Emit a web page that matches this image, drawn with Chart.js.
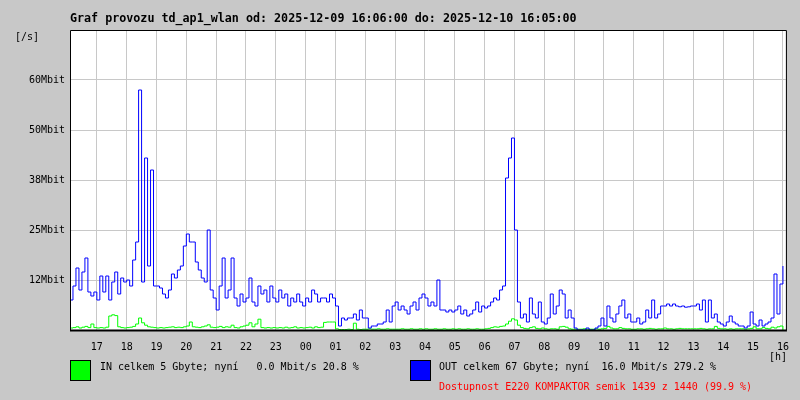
<!DOCTYPE html>
<html><head><meta charset="utf-8">
<script src="https://cdn.jsdelivr.net/npm/chart.js@4/dist/chart.umd.min.js"></script>
<style>html,body{margin:0;padding:0;background:#c8c8c8;}canvas{display:block}</style>
</head><body>
<canvas id="c" width="800" height="400"></canvas>
<script>
// ---- data ----
const titleText = 'Graf provozu td_ap1_wlan od: 2025-12-09 16:06:00 do: 2025-12-10 16:05:00';
const hourLabels = ['17','18','19','20','21','22','23','00','01','02','03','04','05','06','07','08','09','10','11','12','13','14','15','16'];
const firstHourMinute = 54;      // 17:00 is 54 min after 16:06
const sampleStepMinutes = 6;
const yTickLabels = ['', '12Mbit', '25Mbit', '38Mbit', '50Mbit', '60Mbit', ''];
const outMbit = [
  7.5, 11, 15.5, 10, 14.5, 18, 9.5, 8.5, 9.5,
  7.5, 13.5, 9.5, 13.5, 7.5, 12, 14.5, 9, 13, 12,
  12.5, 11, 17.5, 22, 60, 12, 43, 16, 40, 11,
  11, 10.5, 9, 8, 10, 14, 13, 15, 16, 21,
  24, 22, 22, 17, 15, 13, 12, 25, 10, 8,
  5, 11, 18, 8, 10, 18, 8, 6, 9, 7,
  8, 13, 7, 6, 11, 9, 10, 7, 11, 8,
  7, 10, 8, 9, 6, 8, 7, 9, 7, 6,
  8, 7, 10, 9, 7, 8, 8, 7, 9, 8,
  6, 1, 3, 2.5, 3, 3, 4, 2.5, 5, 3,
  3, 0.5, 1, 1, 1.5, 1.5, 2, 5, 2, 6,
  7, 5, 6, 5, 4, 6, 7, 5, 8, 9,
  8, 6, 7, 6, 12.5, 5, 5, 4.5, 5, 4.5,
  5, 6, 4, 5, 3.5, 4, 5, 7, 4.5, 6,
  5.5, 6, 7, 8, 7.5, 10, 11, 38, 43, 48,
  25, 7, 3, 4, 2, 8, 4, 3, 7, 2,
  1.5, 3, 9, 4, 6, 10, 9, 3, 5, 3,
  0.5, 0, 0, 0, 0.5, 0, 0, 0.5, 1, 3,
  1, 6, 3, 2, 4, 6, 7.5, 3, 4, 2,
  2, 3, 1.5, 2, 5, 3, 7.5, 3, 4, 6,
  6, 6.5, 6, 6.5, 6, 5.8, 6, 5.7, 5.8, 6,
  6, 6.5, 5, 7.5, 2, 7.5, 3, 4, 2, 1.5,
  1, 2, 3.5, 2, 1.5, 1, 1, 0.5, 1, 4.5,
  1.5, 1, 2.5, 1, 1.5, 2, 3, 14, 4, 11.5,
  16
];
const inMbit = [
  0.5, 0.6, 0.8, 0.5, 0.7, 0.9, 0.6, 1.5, 0.6,
  0.5, 0.6, 0.5, 0.7, 3.5, 3.8, 3.6, 0.8, 0.6, 0.5,
  0.6, 0.7, 0.9, 1.5, 3, 1.8, 1.2, 0.8, 0.7, 0.6,
  0.5, 0.6, 0.5, 0.6, 0.7, 0.8, 0.6, 0.7, 0.6, 0.8,
  1, 2, 0.8, 0.7, 0.6, 0.8, 1, 1.3, 0.7, 0.6,
  0.7, 0.9, 0.6, 0.8, 0.7, 1.2, 0.6, 0.5, 0.8, 1,
  1.2, 1.8, 0.8, 1.5, 2.7, 0.6, 0.5, 0.6, 0.5, 0.6,
  0.5, 0.6, 0.5, 0.7, 0.5, 0.6, 0.8, 0.5, 0.6, 0.5,
  0.6, 0.7, 0.5, 0.8, 0.6, 0.7, 1.9, 2, 2, 2,
  0.3, 0.1, 0.1, 0.1, 0.2, 0.1, 1.7, 0.2, 0.1, 0.2,
  0.2, 0.3, 0.2, 0.2, 0.3, 0.2, 0.2, 0.3, 0.2, 0.2,
  0.2, 0.2, 0.3, 0.2, 0.2, 0.3, 0.2, 0.2, 0.3, 0.2,
  0.3, 0.2, 0.2, 0.3, 0.2, 0.2, 0.3, 0.2, 0.2, 0.3,
  0.2, 0.3, 0.2, 0.2, 0.3, 0.2, 0.2, 0.3, 0.2, 0.2,
  0.3, 0.4, 0.6, 0.8, 0.7, 0.9, 1, 1.5, 2.2, 2.8,
  2.5, 1.2, 0.6, 0.4, 0.3, 0.6, 0.8, 0.4, 0.3, 0.5,
  0.3, 0.2, 0.3, 0.3, 0.2, 0.8, 0.9, 0.7, 0.3, 0.2,
  0.2, 0.2, 0.2, 0.3, 0.2, 0.2, 0.2, 0.3, 0.2, 0.3,
  0.4, 0.9, 0.5, 0.3, 0.3, 0.6, 0.4, 0.3, 0.3, 0.2,
  0.2, 0.3, 0.3, 0.2, 0.3, 0.4, 0.3, 0.2, 0.3, 0.3,
  0.5, 0.3, 0.3, 0.2, 0.3, 0.4, 0.3, 0.3, 0.3, 0.3,
  0.3, 0.3, 0.4, 0.3, 0.2, 0.3, 0.3, 0.9, 0.4, 0.3,
  0.3, 0.2, 0.3, 0.2, 0.3, 0.3, 0.3, 0.2, 0.3, 0.4,
  0.8, 0.3, 0.3, 0.6, 0.4, 0.3, 0.7, 0.5, 0.8, 1,
  0
];
const legendIn = 'IN celkem 5 Gbyte; nyní   0.0 Mbit/s 20.8 %';
const legendOut = 'OUT celkem 67 Gbyte; nyní  16.0 Mbit/s 279.2 %';
const legendAvail = 'Dostupnost E220 KOMPAKTOR semik 1439 z 1440 (99.9 %)';

// ---- chart ----
const BG = '#c8c8c8', GRID = '#c8c8c8';
const MONO = '"DejaVu Sans Mono", "Liberation Mono", monospace';
const hourTickMinutes = hourLabels.map((_, k) => firstHourMinute + 60 * k);
const toPoints = arr => arr.map((v, i) => ({ x: i * sampleStepMinutes, y: v }));

const decor = {
  id: 'decor',
  beforeDraw(chart) {
    const { ctx, chartArea: a } = chart;
    ctx.save();
    ctx.fillStyle = BG;
    ctx.fillRect(0, 0, chart.width, chart.height);
    ctx.fillStyle = '#ffffff';
    ctx.fillRect(a.left, a.top, a.right - a.left, a.bottom - a.top);
    ctx.restore();
  },
  afterDraw(chart) {
    const { ctx, chartArea: a } = chart;
    ctx.save();
    ctx.strokeStyle = '#000';
    ctx.lineWidth = 1;
    ctx.beginPath();
    ctx.moveTo(a.left + 0.5, a.bottom);
    ctx.lineTo(a.left + 0.5, a.top + 0.5);
    ctx.lineTo(a.right + 0.5, a.top + 0.5);
    ctx.lineTo(a.right + 0.5, a.bottom);
    ctx.stroke();
    ctx.lineWidth = 2;
    ctx.beginPath();
    ctx.moveTo(a.left, a.bottom + 0.5);
    ctx.lineTo(a.right + 1, a.bottom + 0.5);
    ctx.stroke();
    // title
    ctx.fillStyle = '#000';
    ctx.textBaseline = 'middle';
    ctx.textAlign = 'left';
    ctx.font = 'bold 11.7px ' + MONO;
    ctx.fillText(titleText, 70, 19);
    ctx.font = '10px ' + MONO;
    ctx.fillText('[/s]', 15, 37);
    ctx.textAlign = 'center';
    ctx.fillText('[h]', 778, 357);
    ctx.textAlign = 'left';
    // legend boxes
    ctx.lineWidth = 1;
    ctx.fillStyle = '#00ff00';
    ctx.fillRect(70, 360, 21, 21);
    ctx.strokeRect(70.5, 360.5, 20, 20);
    ctx.fillStyle = '#0000ff';
    ctx.fillRect(410, 360, 21, 21);
    ctx.strokeRect(410.5, 360.5, 20, 20);
    ctx.fillStyle = '#000';
    ctx.fillText(legendIn, 100, 367);
    ctx.fillText(legendOut, 439, 367);
    ctx.fillStyle = '#ff0000';
    ctx.fillText(legendAvail, 439, 387);
    ctx.restore();
  }
};

new Chart(document.getElementById('c'), {
  type: 'line',
  data: {
    datasets: [
      { label: 'OUT', data: toPoints(outMbit), borderColor: '#0000ff', borderWidth: 1, pointRadius: 0, stepped: true, fill: false },
      { label: 'IN', data: toPoints(inMbit), borderColor: '#00ff00', borderWidth: 1, pointRadius: 0, stepped: true, fill: false }
    ]
  },
  options: {
    responsive: false,
    animation: false,
    events: [],
    layout: { padding: { left: 0, right: 10, top: 30, bottom: 0 } },
    plugins: { legend: { display: false }, title: { display: false }, tooltip: { enabled: false } },
    scales: {
      x: {
        type: 'linear', min: 0, max: 1440,
        afterFit(s) { s.height = 70; },
        afterBuildTicks(s) { s.ticks = hourTickMinutes.map(v => ({ value: v })); },
        ticks: { autoSkip: false, maxRotation: 0, minRotation: 0, padding: 11, color: '#000',
          font: { family: MONO, size: 10 }, callback: (v, i) => hourLabels[i] },
        grid: { color: GRID, lineWidth: 1, drawTicks: false },
        border: { display: false }
      },
      y: {
        min: 0, max: 75,
        afterFit(s) { s.width = 70; },
        ticks: { stepSize: 12.5, padding: 5, color: '#000', font: { family: MONO, size: 10 },
          callback: (v, i) => yTickLabels[i] },
        grid: { color: GRID, lineWidth: 1, drawTicks: false },
        border: { display: false }
      }
    }
  },
  plugins: [decor]
});
</script>
</body></html>
